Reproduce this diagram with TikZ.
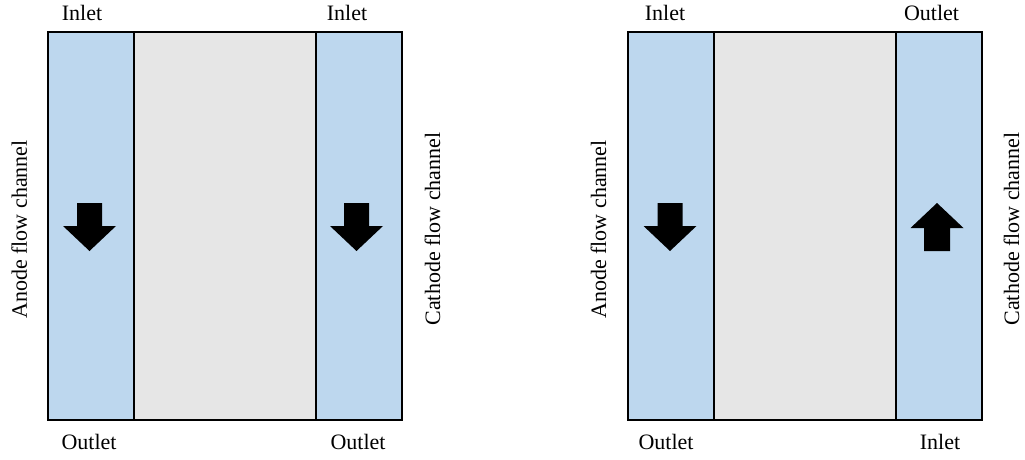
\documentclass[tikz,border=0pt]{standalone}
\usepackage{fontspec}
\setmainfont{Liberation Serif}
\definecolor{chanblue}{HTML}{BDD7EE}
\definecolor{memgray}{HTML}{E6E6E6}
\begin{document}
\begin{tikzpicture}[x=1pt,y=-1pt,
  frame/.style={draw=black,line width=1.6pt},
  channel/.style={fill=chanblue},
  membrane/.style={fill=memgray},
  lbl/.style={font=\fontsize{22}{26}\selectfont,anchor=base,inner sep=0pt},
  vlbl/.style={lbl,rotate=90},
  flowarrow/.style={fill=black,draw=none}]
\useasboundingbox (0,0) rectangle (1025,460);

% one cell: anode channel | membrane | cathode channel
\newcommand{\fuelcell}[1]{%
  \begin{scope}[xshift=#1]
    \fill[channel] (48,32) rectangle (134,420);
    \fill[membrane] (134,32) rectangle (316,420);
    \fill[channel] (316,32) rectangle (402,420);
    \draw[frame] (48,32) rectangle (402,420);
    \draw[frame] (134,32) -- (134,420);
    \draw[frame] (316,32) -- (316,420);
  \end{scope}}
% block arrows (centre x)
\newcommand{\flowdown}[1]{%
  \fill[flowarrow] (#1-12.5,203) -- (#1+12.5,203) -- (#1+12.5,226) -- (#1+26.5,226)
    -- (#1,251) -- (#1-26.5,226) -- (#1-12.5,226) -- cycle;}
\newcommand{\flowup}[1]{%
  \fill[flowarrow] (#1-13,251) -- (#1+13,251) -- (#1+13,228) -- (#1+26.5,228)
    -- (#1,203) -- (#1-26.5,228) -- (#1-13,228) -- cycle;}

% co-flow cell
\fuelcell{0}
\flowdown{89.5}
\flowdown{356.5}
\node[lbl] (coAnIn) at (82,21) {Inlet};
\node[lbl] (coCaIn) at (347,21) {Inlet};
\node[lbl] (coAnOut) at (89,449.5) {Outlet};
\node[lbl] (coCaOut) at (358,449.5) {Outlet};
\node[vlbl] (coAnode) at (27,229.5) {Anode flow channel};
\node[vlbl] (coCathode) at (440,229) {Cathode flow channel};

% counter-flow cell
\fuelcell{580}
\flowdown{670}
\flowup{937}
\node[lbl] (ctAnIn) at (665,21) {Inlet};
\node[lbl] (ctCaOut) at (931.5,21) {Outlet};
\node[lbl] (ctAnOut) at (666,449.5) {Outlet};
\node[lbl] (ctCaIn) at (940,449.5) {Inlet};
\node[vlbl] (ctAnode) at (606,229.5) {Anode flow channel};
\node[vlbl] (ctCathode) at (1019,229) {Cathode flow channel};
\end{tikzpicture}
\end{document}
